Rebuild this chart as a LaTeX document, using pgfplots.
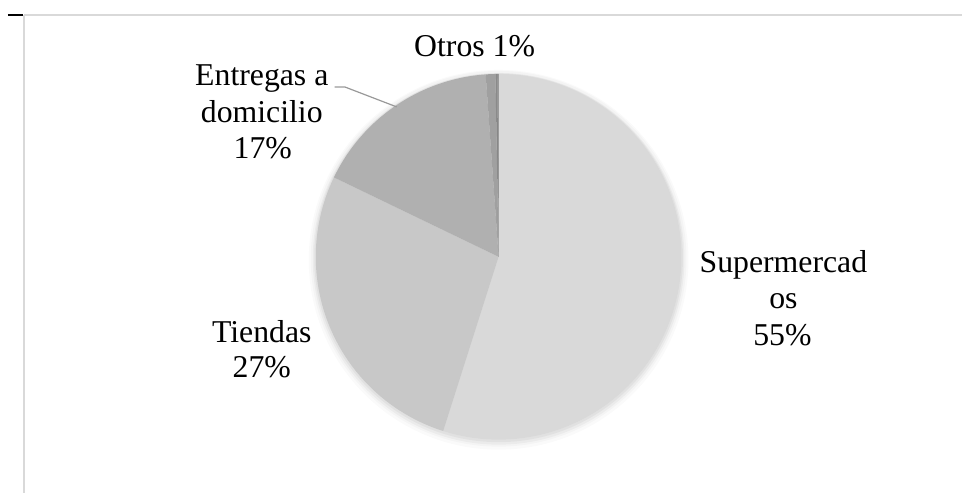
\documentclass[border=0pt]{standalone}
\usepackage{pgfplots}
\pgfplotsset{compat=1.18}
\usepackage{fontspec}
\setmainfont{Liberation Serif}
\definecolor{cSup}{HTML}{D9D9D9}
\definecolor{cTie}{HTML}{C8C8C8}
\definecolor{cEnt}{HTML}{B0B0B0}
\definecolor{cOtA}{HTML}{A0A0A0}
\definecolor{cOtB}{HTML}{8A8A8A}
\definecolor{cOtC}{HTML}{777777}
\definecolor{frame}{HTML}{D9D9D9}
% data (percent)
\def\vSup{54.9}
\def\vTie{27.25}
\def\vEnt{16.72}
\def\vOtA{0.85}
\def\vOtB{0.18}
\def\vOtC{0.10}
\pgfmathsetmacro\aA{90}
\pgfmathsetmacro\aB{\aA-3.6*\vSup}
\pgfmathsetmacro\aC{\aB-3.6*\vTie}
\pgfmathsetmacro\aD{\aC-3.6*\vEnt}
\pgfmathsetmacro\aE{\aD-3.6*\vOtA}
\pgfmathsetmacro\aF{\aE-3.6*\vOtB}
\pgfmathsetmacro\aG{\aF-3.6*\vOtC}
\newcommand\slice[3]{%
  \fill[#3] (axis cs:499,236) -- (axis cs:{499+183*cos(#1)},{236+183*sin(#1)})
    arc[start angle=#1, end angle=#2, radius=183bp] -- cycle;}
\begin{document}
\begin{tikzpicture}
\begin{axis}[width=963bp,height=493bp,scale only axis,
  xmin=0,xmax=963,ymin=0,ymax=493,hide axis,clip=false]
\path (axis cs:0,0) (axis cs:963,493);
% frame lines
\addplot[frame,line width=1.5bp] coordinates {(24,478) (963,478)};
\addplot[frame,line width=1.5bp] coordinates {(24,478) (24,0)};
\addplot[black,line width=2bp] coordinates {(8,478) (23,478)};
% shadow
\fill[black,opacity=0.02] (axis cs:499,233) circle[radius=190bp];
\fill[black,opacity=0.025] (axis cs:499,234) circle[radius=188bp];
\fill[black,opacity=0.035] (axis cs:499,234) circle[radius=186bp];
\fill[black,opacity=0.045] (axis cs:499,235) circle[radius=184.5bp];
% slices
\slice{\aA}{\aB}{cSup}
\slice{\aB}{\aC}{cTie}
\slice{\aC}{\aD}{cEnt}
\slice{\aD}{\aE}{cOtA}
\slice{\aE}{\aF}{cOtB}
\slice{\aF}{\aG}{cOtC}
% leader line
\addplot[color=black!40,line width=1.2bp] coordinates {(335,406) (345,406) (397,386)};
% labels
\begin{scope}[every node/.style={anchor=base,inner sep=0pt,font=\fontsize{31.9}{36}\selectfont}]
\node at (axis cs:475,436) {Otros 1\%};
\node at (axis cs:262,407) {Entregas a};
\node at (axis cs:262,370) {domicilio};
\node at (axis cs:263,334) {17\%};
\node at (axis cs:262,150) {Tiendas};
\node at (axis cs:262,115) {27\%};
\node at (axis cs:784,220) {Supermercad};
\node at (axis cs:784,184) {os};
\node at (axis cs:783,147) {55\%};
\end{scope}
\end{axis}
\end{tikzpicture}
\end{document}
